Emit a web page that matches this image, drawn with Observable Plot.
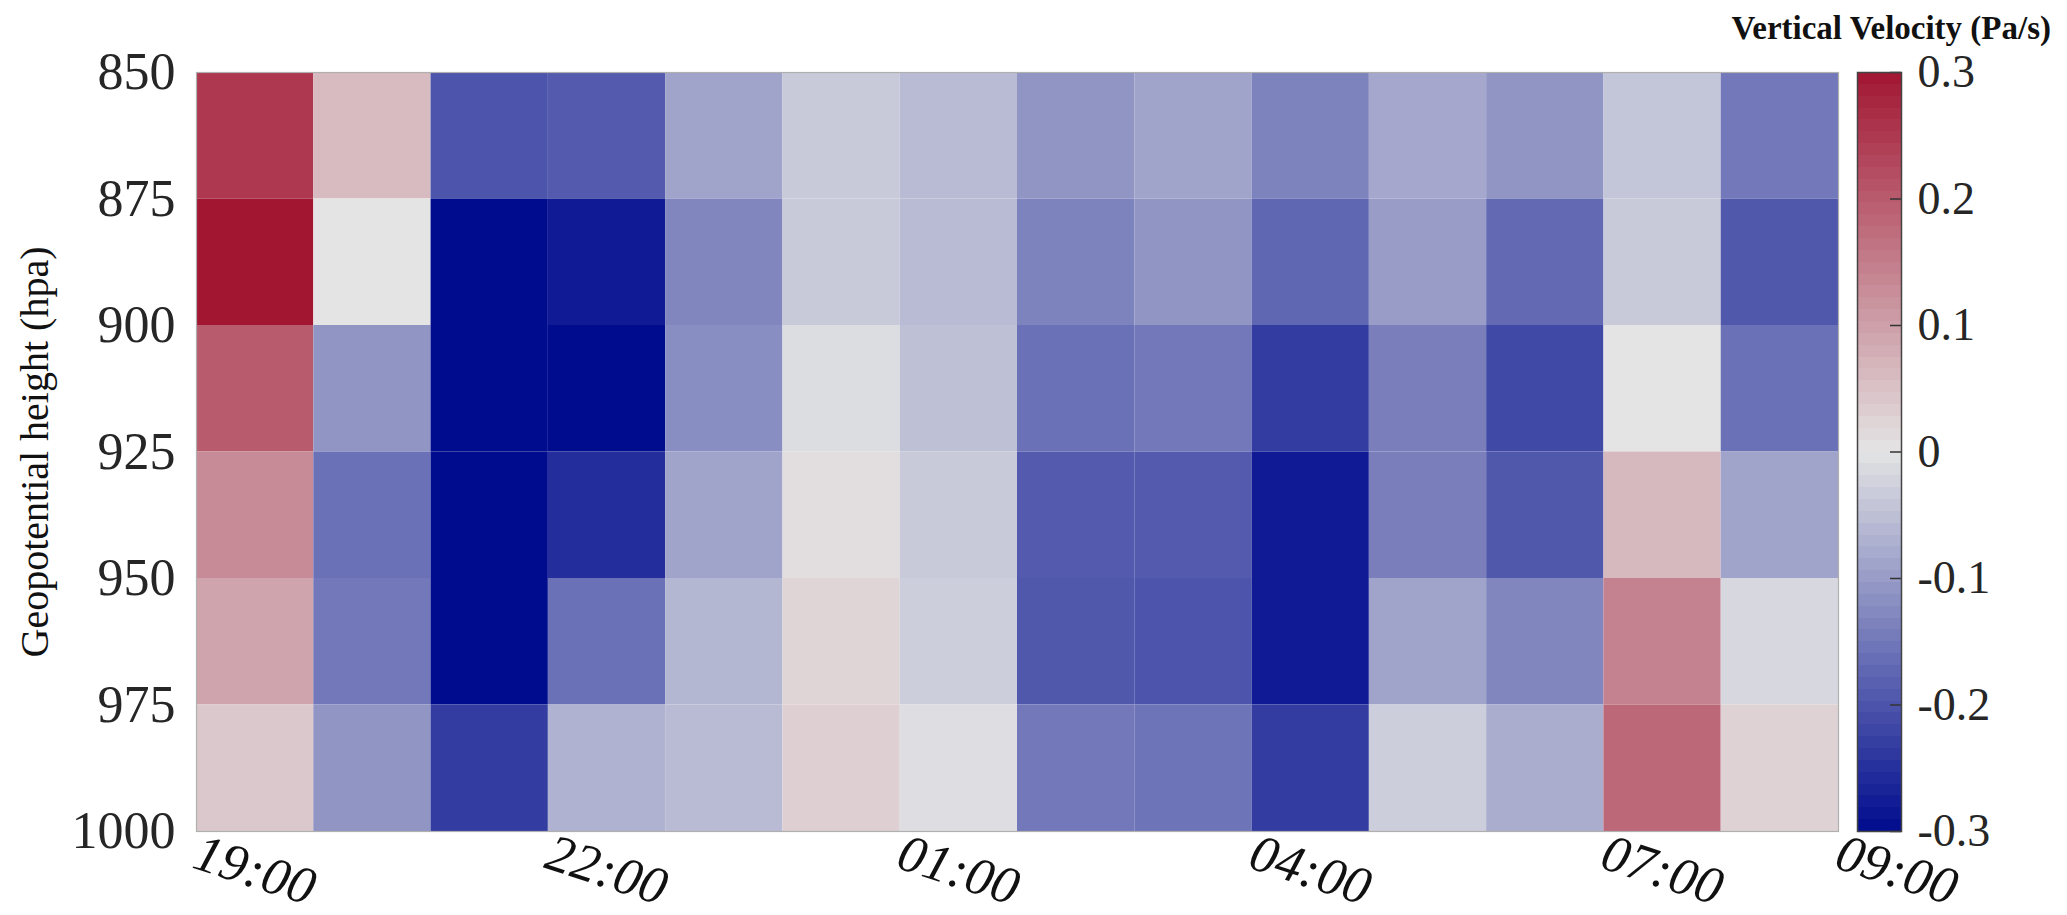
<!DOCTYPE html>
<html><head><meta charset="utf-8">
<script src="https://cdn.jsdelivr.net/npm/d3@7"></script>
<script src="https://cdn.jsdelivr.net/npm/@observablehq/plot@0.6"></script>
<style>
body{margin:0;background:#fff;}
#wrap{position:relative;width:2067px;height:915px;overflow:hidden;font-family:"Liberation Serif","Times New Roman",serif;}
#wrap svg{position:absolute;left:0;top:0;background:transparent;}
#cbtitle{position:absolute;right:16px;top:12px;font-family:"Liberation Serif","Times New Roman",serif;font-weight:bold;font-size:33px;line-height:33px;color:#111;white-space:nowrap;}
</style></head><body><div id="wrap"><div id="cbtitle">Vertical Velocity (Pa/s)</div></div>
<script>
// Columns (hourly, left edge of each cell)
const times = ["19:00","20:00","21:00","22:00","23:00","00:00","01:00","02:00","03:00","04:00","05:00","06:00","07:00","08:00"];
// Pressure levels (top edge of each row, hPa)
const levels = [850, 875, 900, 925, 950, 975];
// Vertical velocity (Pa/s), one array per row
const row850 = [0.25, 0.06, -0.20, -0.19, -0.09, -0.037, -0.057, -0.11, -0.09, -0.135, -0.083, -0.11, -0.043, -0.15];
const row875 = [0.30, 0.00, -0.30, -0.28, -0.13, -0.037, -0.057, -0.135, -0.11, -0.175, -0.10, -0.17, -0.037, -0.195];
const row900 = [0.20, -0.11, -0.30, -0.30, -0.12, -0.01, -0.05, -0.16, -0.15, -0.234, -0.14, -0.215, 0.00, -0.16];
const row925 = [0.13, -0.16, -0.30, -0.254, -0.09, 0.01, -0.037, -0.19, -0.19, -0.28, -0.14, -0.195, 0.063, -0.09];
const row950 = [0.093, -0.15, -0.30, -0.16, -0.063, 0.024, -0.03, -0.195, -0.20, -0.28, -0.09, -0.13, 0.144, -0.017];
const row975 = [0.041, -0.11, -0.234, -0.07, -0.057, 0.03, -0.008, -0.15, -0.155, -0.234, -0.03, -0.076, 0.18, 0.026];
const rows = [row850, row875, row900, row925, row950, row975];

const yTicks = [850, 875, 900, 925, 950, 975, 1000];
const xTickPos = [0, 3, 6, 9, 12, 14];
const xTickLabels = ["19:00", "22:00", "01:00", "04:00", "07:00", "09:00"];
const cbTicks = [-0.3, -0.2, -0.1, 0, 0.1, 0.2, 0.3];
const cbLabels = ["-0.3", "-0.2", "-0.1", "0", "0.1", "0.2", "0.3"];
const yTitle = "Geopotential height (hpa)";
const levelStep = 25;

const FONT = '"Liberation Serif","Times New Roman",serif';
const interp = d3.piecewise(d3.interpolateRgb, ["rgb(0,12,142)", "rgb(228,228,228)", "rgb(162,22,50)"]);
const colorScale = {type: "linear", domain: [-0.3, 0.3], interpolate: interp, clamp: true};

const cells = [];
rows.forEach((row, r) => row.forEach((v, c) => cells.push({
  x1: c, x2: c + 1, y1: levels[r], y2: levels[r] + levelStep, v, time: times[c]
})));

const W = 2067, H = 915;
const mL = 196, mR = W - 1838, mT = 72, mB = H - 831;

const main = Plot.plot({
  width: W, height: H,
  marginLeft: mL, marginRight: mR, marginTop: mT, marginBottom: mB,
  style: {fontFamily: FONT, color: "#262626", background: "transparent"},
  x: {type: "linear", domain: [0, 14], axis: null},
  y: {type: "linear", domain: [850, 1000], reverse: true},
  color: colorScale,
  marks: [
    Plot.rect(cells, {x1: "x1", x2: "x2", y1: "y1", y2: "y2", fill: "v"}),
    Plot.frame({stroke: "#b0b0b0", strokeWidth: 1.2}),
    Plot.axisY({ticks: yTicks, tickSize: 0, tickPadding: 21, fontSize: 52, fontFamily: FONT, label: null, tickFormat: d => String(d)}),
    Plot.text(xTickPos, {x: d => d, text: (d, i) => xTickLabels[i], frameAnchor: "bottom", rotate: 18,
      textAnchor: "start", lineAnchor: "top", fontSize: 53, fontStyle: "italic", fontFamily: FONT, fill: "#111", dx: 6, dy: 0}),
    Plot.text([yTitle], {frameAnchor: "left", dx: -161, rotate: -90, fontSize: 40, fontFamily: FONT,
      textAnchor: "middle", lineAnchor: "middle", fill: "#111"})
  ]
});

const nb = 64;
const bands = d3.range(nb).map(i => {
  const a = -0.3 + i * 0.6 / nb, b = a + 0.6 / nb;
  return {y1: a, y2: b, v: (a + b) / 2};
});

const cb = Plot.plot({
  width: W, height: H,
  marginLeft: 1857, marginRight: W - 1901, marginTop: mT, marginBottom: mB,
  style: {fontFamily: FONT, color: "#262626", background: "transparent"},
  x: {type: "linear", domain: [0, 1], axis: null},
  y: {type: "linear", domain: [-0.3, 0.3]},
  color: colorScale,
  marks: [
    Plot.rect(bands, {x1: 0, x2: 1, y1: "y1", y2: "y2", fill: "v", shapeRendering: "crispEdges"}),
    Plot.ruleY(cbTicks, {x1: 0.75, x2: 1, stroke: "#333", strokeWidth: 1.5}),
    Plot.frame({stroke: "#444", strokeWidth: 1.5}),
    Plot.axisY({anchor: "right", ticks: cbTicks, tickSize: 0, tickPadding: 16, fontSize: 46, fontFamily: FONT,
      label: null, tickFormat: (d, i) => cbLabels[cbTicks.indexOf(d)]})
  ]
});

const wrap = document.getElementById("wrap");
wrap.appendChild(main);
wrap.appendChild(cb);
</script>
</body></html>
